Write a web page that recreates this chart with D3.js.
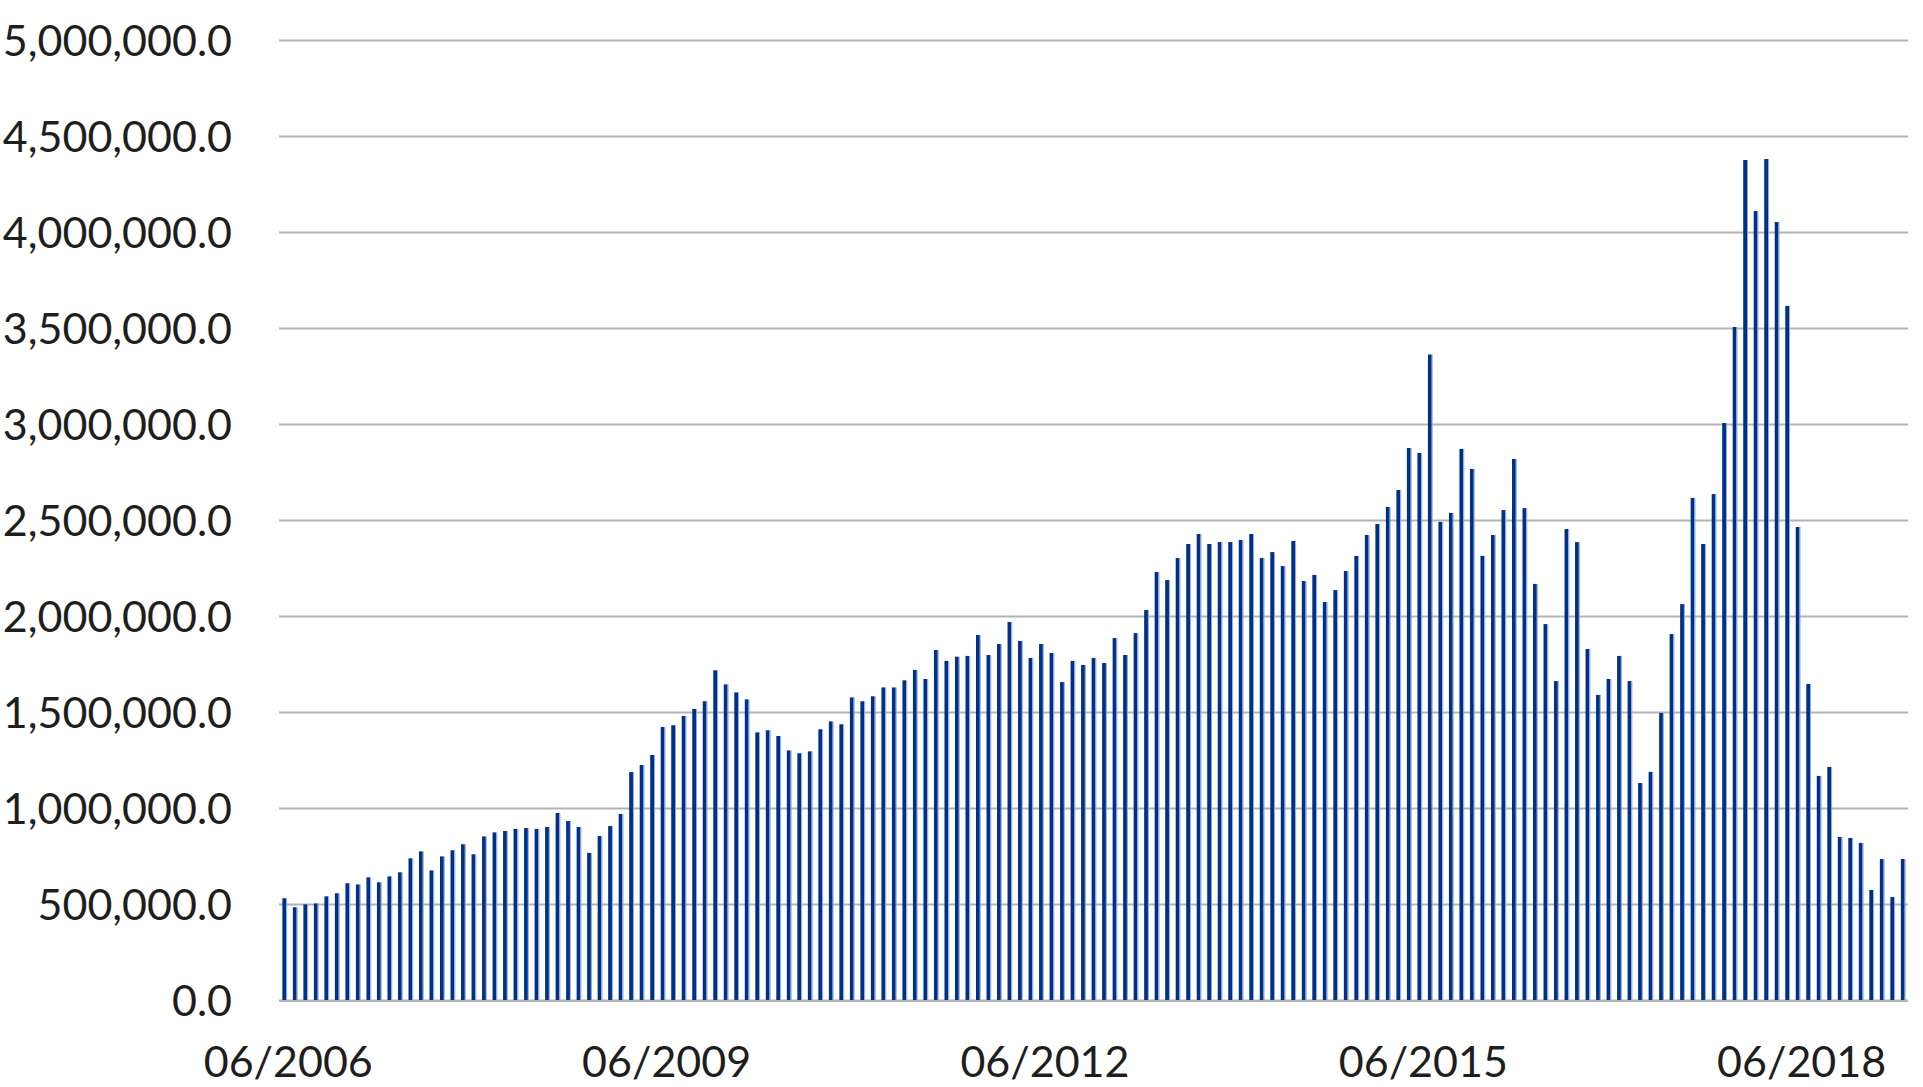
<!DOCTYPE html>
<html>
<head>
<meta charset="utf-8">
<script src="https://cdn.jsdelivr.net/npm/d3@7"></script>
<style>
  html, body { margin: 0; padding: 0; background: #ffffff; }
  svg { display: block; }
  text { font-family: Lato, "Open Sans", sans-serif; fill: #1e1e1e; }
</style>
</head>
<body>
<svg id="chart" width="1923" height="1087"></svg>
<script>
// ---- Data ----
const startYear = 2006;
const startMonth = 6; // June
const monthCount = 155;

// monthly values (units)
const values = [
  530000, 483000, 498000, 503000, 540000, 556000, 608000, 602000, 639000, 613000,
  644000, 665000, 738000, 774000, 675000, 748000, 780000, 811000, 759000, 852000,
  873000, 880000, 891000, 896000, 891000, 901000, 974000, 932000, 901000, 766000,
  854000, 906000, 969000, 1187000, 1224000, 1276000, 1422000, 1431000, 1479000, 1516000,
  1556000, 1717000, 1644000, 1602000, 1566000, 1394000, 1405000, 1375000, 1300000, 1285000,
  1295000, 1410000, 1451000, 1436000, 1576000, 1556000, 1582000, 1628000, 1628000, 1665000,
  1719000, 1672000, 1823000, 1766000, 1788000, 1792000, 1901000, 1797000, 1854000, 1969000,
  1870000, 1781000, 1854000, 1807000, 1656000, 1766000, 1745000, 1781000, 1755000, 1885000,
  1797000, 1911000, 2031000, 2229000, 2187000, 2302000, 2375000, 2427000, 2375000, 2385000,
  2385000, 2396000, 2427000, 2302000, 2333000, 2260000, 2391000, 2182000, 2214000, 2073000,
  2135000, 2234000, 2313000, 2422000, 2479000, 2568000, 2656000, 2875000, 2849000, 3362000,
  2490000, 2537000, 2870000, 2766000, 2313000, 2422000, 2552000, 2818000, 2562000, 2167000,
  1958000, 1661000, 2453000, 2385000, 1828000, 1589000, 1672000, 1792000, 1661000, 1130000,
  1188000, 1495000, 1906000, 2062000, 2615000, 2375000, 2635000, 3005000, 3505000, 4375000,
  4109000, 4380000, 4052000, 3615000, 2464000, 1646000, 1167000, 1214000, 849000, 844000,
  818000, 573000, 734000, 536000, 734000
];

const xTickLabels = ["06/2006", "06/2009", "06/2012", "06/2015", "06/2018"];
const yTicks = [0, 500000, 1000000, 1500000, 2000000, 2500000, 3000000, 3500000, 4000000, 4500000, 5000000];

// categories: month labels MM/YYYY
const categories = [];
for (let i = 0; i < monthCount; i++) {
  const m0 = (startMonth - 1 + i);
  const y = startYear + Math.floor(m0 / 12);
  const m = (m0 % 12) + 1;
  categories.push(String(m).padStart(2, "0") + "/" + y);
}

// ---- Layout ----
const svg = d3.select("#chart");
const plot = { left: 279, right: 1908, top: 40, bottom: 1000 };

const x = d3.scaleBand()
  .domain(categories)
  .range([plot.left, plot.right])
  .paddingInner(0.64)
  .paddingOuter(0.32);

const y = d3.scaleLinear()
  .domain([0, 5000000])
  .range([plot.bottom, plot.top]);

// gridlines
const yAxis = d3.axisLeft(y)
  .tickValues(yTicks)
  .tickFormat(d3.format(",.1f"))
  .tickSize(0)
  .tickPadding(0);

svg.append("g")
  .attr("class", "grid")
  .selectAll("line")
  .data(yTicks)
  .join("line")
  .attr("x1", plot.left)
  .attr("x2", plot.right)
  .attr("y1", d => Math.round(y(d)) + 0.5)
  .attr("y2", d => Math.round(y(d)) + 0.5)
  .attr("stroke", "#b3b3b3")
  .attr("stroke-width", 2);

// y axis labels
const gy = svg.append("g")
  .attr("transform", `translate(${232},0)`)
  .call(yAxis);
gy.select(".domain").remove();
gy.selectAll("text")
  .attr("font-size", 43)
  .attr("fill", "#1e1e1e")
  .attr("dy", "0.36em");

// bars
const bw = x.bandwidth();
const bars = svg.append("g").attr("class", "bars");
bars.selectAll("rect.main")
  .data(values)
  .join("rect")
  .attr("class", "main")
  .attr("x", (d, i) => x(categories[i]))
  .attr("y", d => y(d))
  .attr("width", bw)
  .attr("height", d => y(0) - y(d))
  .attr("fill", "#003087");
bars.selectAll("rect.edge")
  .data(values)
  .join("rect")
  .attr("class", "edge")
  .attr("x", (d, i) => x(categories[i]) + bw)
  .attr("y", d => y(d))
  .attr("width", 1)
  .attr("height", d => y(0) - y(d))
  .attr("fill", "#8fa8e0");

// baseline
svg.append("line")
  .attr("x1", plot.left)
  .attr("x2", plot.right)
  .attr("y1", y(0) + 1)
  .attr("y2", y(0) + 1)
  .attr("stroke", "#b3b3b3")
  .attr("stroke-width", 2);

// x axis labels
const xAxis = d3.axisBottom(x)
  .tickValues(xTickLabels)
  .tickSize(0)
  .tickPadding(0);
const gx = svg.append("g")
  .attr("transform", `translate(4,${1062})`)
  .call(xAxis);
gx.select(".domain").remove();
gx.selectAll("text")
  .attr("font-size", 43)
  .attr("fill", "#1e1e1e")
  .attr("dy", "0.36em");
</script>
</body>
</html>
